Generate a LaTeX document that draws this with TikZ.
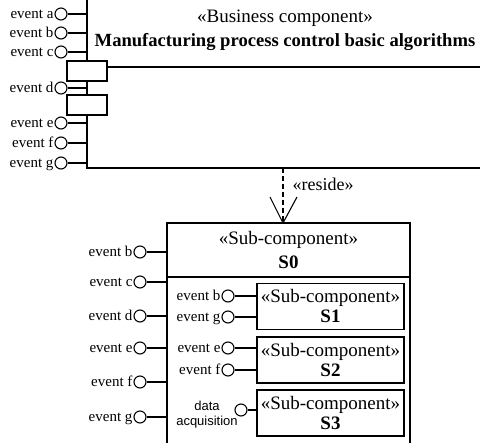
\documentclass[tikz,border=0pt]{standalone}
\usepackage{fontspec}
\setmainfont{Liberation Serif}
\newfontfamily\sansf{Liberation Sans}
\begin{document}
\begin{tikzpicture}[x=1pt,y=-1pt,line width=1.1pt,
  ball/.style={draw,circle,minimum size=12pt,inner sep=0pt,fill=white},
  evlabel/.style={anchor=base east,inner sep=0pt,font=\fontsize{15}{16}\selectfont},
  stereo/.style={inner sep=0pt,font=\fontsize{19}{20}\selectfont},
  cname/.style={inner sep=0pt,font=\bfseries\fontsize{19}{20}\selectfont},
  portbox/.style={draw,fill=white,minimum width=40pt,minimum height=20pt,inner sep=0pt},
  subbox/.style={draw,minimum width=147pt,minimum height=46pt,inner sep=0pt,
    align=center,font=\fontsize{19}{20}\selectfont},
  deplink/.style={dash pattern=on 5pt off 3pt}]
\useasboundingbox (0,0) rectangle (480,443);

% ---- business component (top) ----
\coordinate (bcTop) at (87,-5);
\coordinate (bcCorner) at (87,168);
\coordinate (bcRight) at (495,168);
\coordinate (divL) at (107,67);
\coordinate (divR) at (495,67);
\draw (bcTop) -- (bcCorner) -- (bcRight);
\draw (divL) -- (divR);
\node[portbox] (r1) at (87,71) {};
\node[portbox] (r2) at (87,105) {};

\node[stereo] (bcst) at (285,18) {«Business component»};
\node[cname,font=\bfseries\fontsize{18.6}{20}\selectfont] (bcname) at (285,42) {Manufacturing process control basic algorithms};

% interface lollipops of the business component
\foreach \n/\y in {a/14,b/33,c/52,d/88,e/123,f/143,g/163}{
  \node[ball] (t\n) at (61,\y) {};
  \coordinate (te\n) at (87,\y);
  \draw (t\n) -- (te\n);
  \node[evlabel] (tl\n) at (54,\y+5) {event \n};
}

% ---- reside dependency ----
\coordinate (depS) at (283,168);
\coordinate (depT) at (283,223);
\draw[deplink] (depS) -- (depT);
\draw (depT) ++(-13,-26) -- (depT) -- ++(14,-26);
\node[stereo,anchor=west,font=\fontsize{18}{18}\selectfont] (reside) at (292,184) {«reside»};

% ---- sub-component S0 ----
\node[draw,minimum width=243pt,minimum height=250pt,inner sep=0pt] (s0) at (288.5,348) {};
\coordinate (sepL) at (167,277);
\coordinate (sepR) at (410,277);
\draw (sepL) -- (sepR);
\node[stereo] (s0st) at (288.5,240) {«Sub-component»};
\node[cname] (s0name) at (288.5,262) {S0};

\foreach \n/\y in {b/252,c/282,d/316,e/348,f/382,g/417}{
  \node[ball] (o\n) at (140,\y) {};
  \coordinate (oe\n) at (167,\y);
  \draw (o\n) -- (oe\n);
  \node[evlabel] (ol\n) at (133,\y+5) {event \n};
}

% ---- nested sub-components ----
\node[subbox] (s1) at (330.5,306.5) {«Sub-component»\\\textbf{S1}};
\node[subbox] (s2) at (330.5,360) {«Sub-component»\\\textbf{S2}};
\node[subbox] (s3) at (330.5,413) {«Sub-component»\\\textbf{S3}};

\foreach \n/\y/\b in {b/296/s1,g/317/s1,e/348/s2,f/370/s2}{
  \node[ball] (i\n) at (228,\y) {};
  \draw (i\n) -- (i\n -| \b.west);
  \node[evlabel] (il\n) at (221,\y+5) {event \n};
}

\node[ball] (ida) at (241,410) {};
\draw (ida) -- (ida -| s3.west);
\node[inner sep=0pt,align=center,font=\sansf\fontsize{13}{15}\selectfont] (ldata) at (207,415) {data\\acquisition};
\end{tikzpicture}
\end{document}
